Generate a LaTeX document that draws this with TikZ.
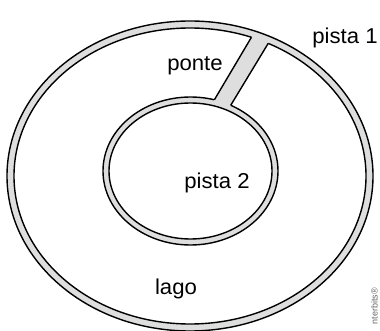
\documentclass[tikz,border=0pt]{standalone}
\usepackage{fontspec}
\setmainfont{Liberation Sans}
\usetikzlibrary{calc,intersections}

\definecolor{roadgray}{RGB}{222,222,222}

\begin{document}
\begin{tikzpicture}[x=1pt, y=-1pt, line width=1.4pt,
		road/.style={fill=roadgray, draw=black},
		water/.style={fill=white, draw=black},
		lbl/.style={font=\fontsize{21.5}{24}\selectfont, xscale=1.03, anchor=base, inner sep=0pt}]
			\useasboundingbox (0,0) rectangle (380,331);
			% pista 1 round the lake
			\draw[road] (190,176) ellipse [x radius=183, y radius=155];
			\draw[water] (190,176) ellipse [x radius=176, y radius=148];
			% pista 2 round the island
			\draw[road] (190.5,171) ellipse [x radius=87.5, y radius=74];
			\draw[water] (190.5,171) ellipse [x radius=81.5, y radius=68];
			
			% ponte
			\path[name path=lakein] (190,176) ellipse [x radius=176, y radius=148];
			\path[name path=islout] (190.5,171) ellipse [x radius=87.5, y radius=74];
			\path[name path=leftside] (203,119) -- (267,11);
			\path[name path=rightside] (220,123) -- (283,19);
			\path[name intersections={of=leftside and lakein, by=lt}];
			\path[name intersections={of=leftside and islout, by=lb}];
			\path[name intersections={of=rightside and lakein, by=rt}];
			\path[name intersections={of=rightside and islout, by=rb}];
			\fill[roadgray] ($(lb)!-3pt!(lt)$) -- ($(lt)!-3pt!(lb)$) -- ($(rt)!-3pt!(rb)$) -- ($(rb)!-3pt!(rt)$) -- cycle;
			\draw (lt) -- (lb);
			\draw (rt) -- (rb);
			
			\node[lbl] (p1) at (345,44) {pista 1};
			\node[lbl] (pt) at (195,70.5) {ponte};
			\node[lbl] (p2) at (217,189) {pista 2};
			\node[lbl] (lg) at (176,294) {lago};
			\node[font=\fontsize{9}{10}\selectfont, text=black!60, rotate=90, inner sep=0pt] (wm) at (374.5,306) {nterbits®};
		\end{tikzpicture}
\end{document}
